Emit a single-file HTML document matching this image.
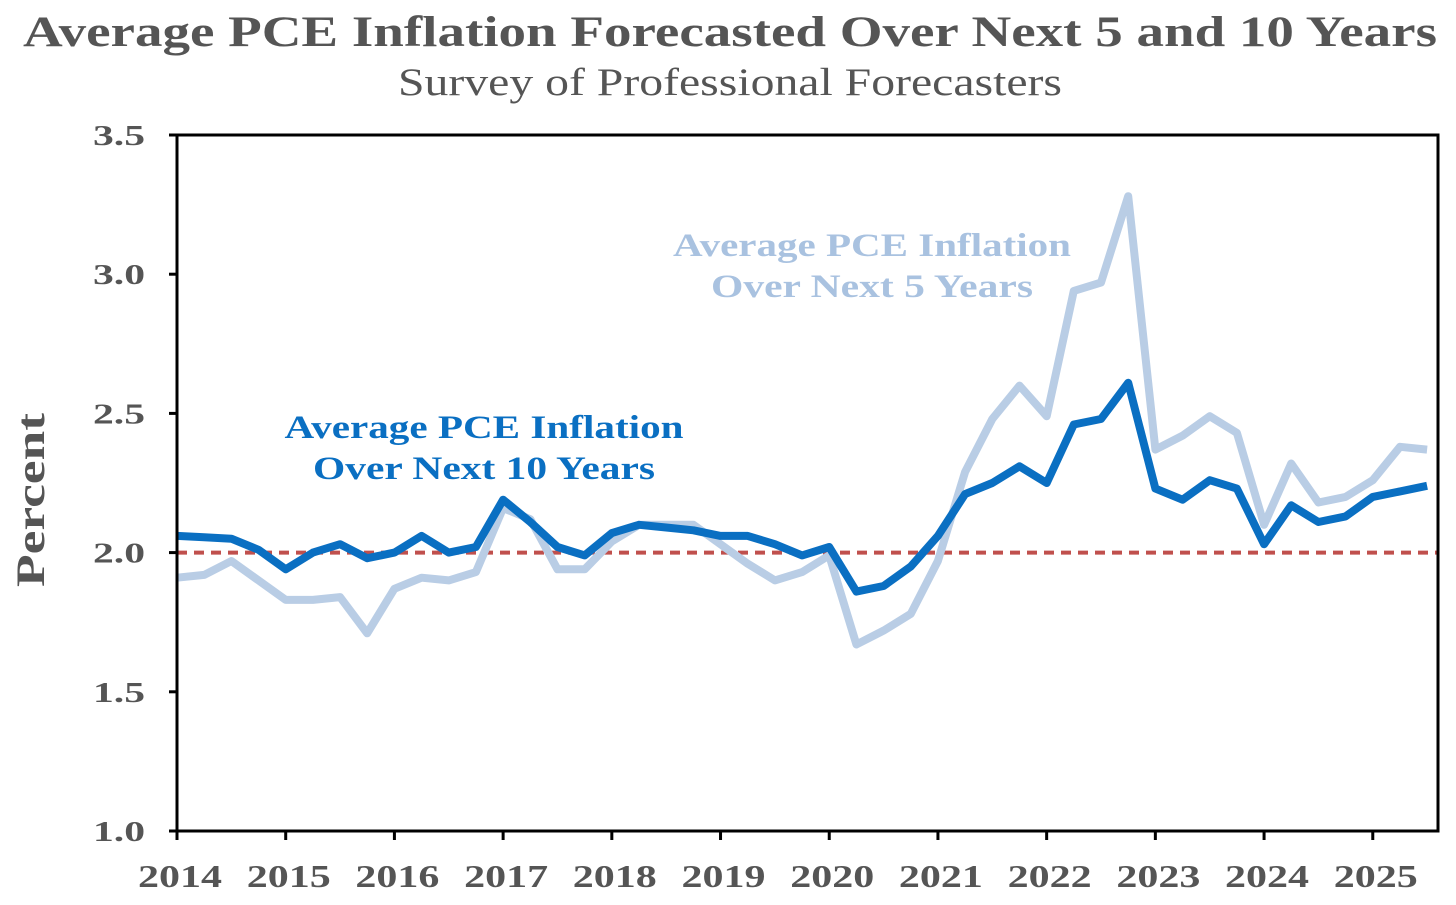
<!DOCTYPE html>
<html><head><meta charset="utf-8"><style>
body{margin:0;background:#fff;}
svg{display:block;font-family:"Liberation Serif",serif;}
</style></head><body>
<svg width="1456" height="905" viewBox="0 0 1456 905">
<text x="730" y="46" text-anchor="middle" font-size="43" font-weight="bold" fill="#555" textLength="1414" lengthAdjust="spacingAndGlyphs">Average PCE Inflation Forecasted Over Next  5 and 10 Years</text>
<text x="730" y="95" text-anchor="middle" font-size="39" fill="#555" textLength="664" lengthAdjust="spacingAndGlyphs">Survey of Professional Forecasters</text>
<text transform="translate(44,500) rotate(-90)" text-anchor="middle" font-size="40" font-weight="bold" fill="#555" textLength="174" lengthAdjust="spacingAndGlyphs">Percent</text>
<g id="plot"></g>
<text x="484" y="438" text-anchor="middle" font-size="33" font-weight="bold" fill="#0a6fc2" textLength="399" lengthAdjust="spacingAndGlyphs">Average PCE Inflation</text>
<text x="484" y="479" text-anchor="middle" font-size="33" font-weight="bold" fill="#0a6fc2" textLength="342" lengthAdjust="spacingAndGlyphs">Over Next 10 Years</text>
<text x="872" y="256" text-anchor="middle" font-size="33" font-weight="bold" fill="#a9c2e0" textLength="398" lengthAdjust="spacingAndGlyphs">Average PCE Inflation</text>
<text x="872" y="297" text-anchor="middle" font-size="33" font-weight="bold" fill="#a9c2e0" textLength="322" lengthAdjust="spacingAndGlyphs">Over Next 5 Years</text>
</svg>
<script>
const years=[2014,2015,2016,2017,2018,2019,2020,2021,2022,2023,2024,2025];
const yTicks=[1.0,1.5,2.0,2.5,3.0,3.5];
const tenYear=[2.06,2.055,2.05,2.01,1.94,2.00,2.03,1.98,2.00,2.06,2.00,2.02,2.19,2.11,2.02,1.99,2.07,2.10,2.09,2.08,2.06,2.06,2.03,1.99,2.02,1.86,1.88,1.95,2.06,2.21,2.25,2.31,2.25,2.46,2.48,2.61,2.23,2.19,2.26,2.23,2.03,2.17,2.11,2.13,2.20,2.22,2.24];
const fiveYear=[1.91,1.92,1.97,1.90,1.83,1.83,1.84,1.71,1.87,1.91,1.90,1.93,2.16,2.12,1.94,1.94,2.04,2.10,2.10,2.10,2.03,1.96,1.90,1.93,1.99,1.67,1.72,1.78,1.97,2.29,2.48,2.60,2.49,2.94,2.97,3.28,2.37,2.42,2.49,2.43,2.10,2.32,2.18,2.20,2.26,2.38,2.37];
const target=2.0;
const X0=177,X1=1438,Y0=831,Y1=135,xmin=2014,xmax=2025.6,ymin=1.0,ymax=3.5;
const xs=t=>X0+(t-xmin)/(xmax-xmin)*(X1-X0);
const ys=v=>Y0-(v-ymin)/(ymax-ymin)*(Y0-Y1);
const NS="http://www.w3.org/2000/svg";
const g=document.getElementById('plot');
function mk(tag,attrs){const e=document.createElementNS(NS,tag);for(const k in attrs)e.setAttribute(k,attrs[k]);g.appendChild(e);return e;}
let tl=mk('line',{x1:X0,x2:X1,y1:ys(target),y2:ys(target),stroke:'#c0504d','stroke-width':4,'stroke-dasharray':'10 7'});


function series(arr,color,name){
  const pts=arr.map((v,i)=>xs(xmin+i/4).toFixed(1)+','+ys(v).toFixed(1)).join(' ');
  const p=mk('polyline',{points:pts,fill:'none',stroke:color,'stroke-width':8,'stroke-linejoin':'round'});
  
  
}
series(fiveYear,'#b9cde5','five-year-line');
series(tenYear,'#0a6fc2','ten-year-line');
let ax=mk('path',{d:`M${X0},${Y1}H${X1}V${Y0}H${X0}Z`,fill:'none',stroke:'#000','stroke-width':3});


yTicks.forEach(v=>{
  mk('line',{x1:X0-8,x2:X0,y1:ys(v),y2:ys(v),stroke:'#000','stroke-width':3});
  const t=mk('text',{x:X0-32,y:ys(v)+10,'text-anchor':'end','font-size':29,'font-weight':'bold',fill:'#555',textLength:52,lengthAdjust:'spacingAndGlyphs'});
  t.textContent=v.toFixed(1);
  
  
});
years.forEach(yr=>{
  mk('line',{x1:xs(yr),x2:xs(yr),y1:Y0,y2:Y0+9,stroke:'#000','stroke-width':3});
  const t=mk('text',{x:xs(yr)+3,y:887,'text-anchor':'middle','font-size':32,'font-weight':'bold',fill:'#555',textLength:84,lengthAdjust:'spacingAndGlyphs'});
  t.textContent=yr;
  
  
});
</script>
</body></html>
